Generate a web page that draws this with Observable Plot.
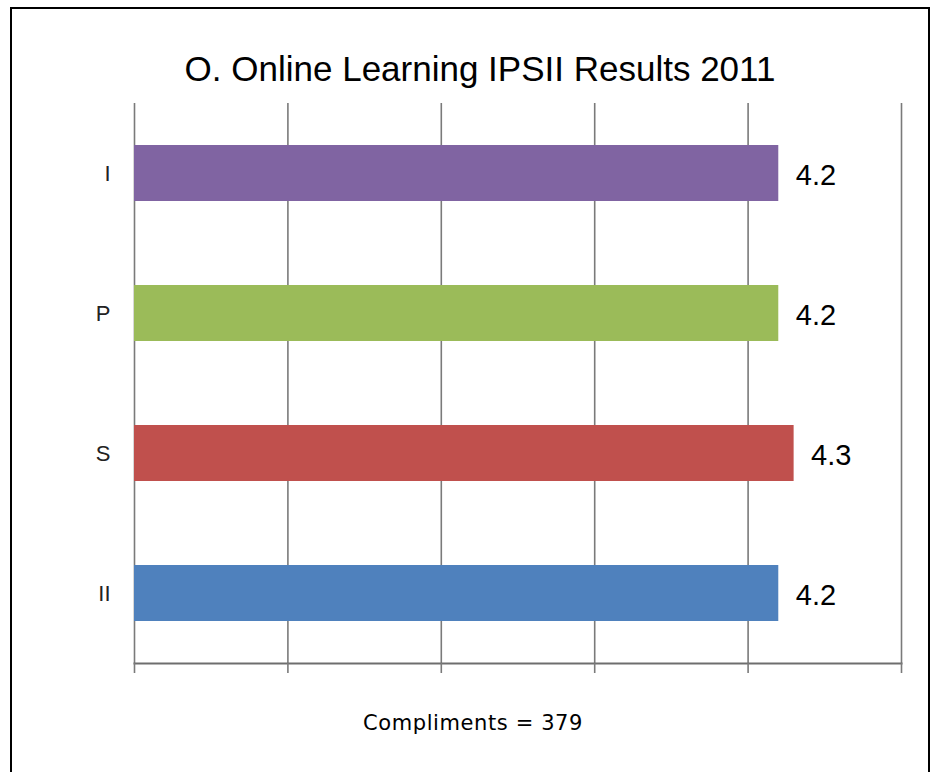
<!DOCTYPE html>
<html>
<head>
<meta charset="utf-8">
<script src="https://cdn.jsdelivr.net/npm/d3@7"></script>
<script src="https://cdn.jsdelivr.net/npm/@observablehq/plot@0.6"></script>
<style>
  html, body { margin: 0; padding: 0; background: #fff; overflow: hidden; }
  #frame {
    position: absolute; left: 10px; top: 7px; width: 916px; height: 800px;
    border: 2px solid #000; background: #fff;
  }
  #title {
    height: 42px; padding-top: 40px; line-height: 40px; text-align: center;
    font-family: "Liberation Sans", sans-serif; font-size: 35px; color: #000;
    padding-left: 20px;
  }
  #caption {
    margin-top: 20px; line-height: 24px; text-align: center;
    font-family: "DejaVu Sans", sans-serif; font-size: 21px; letter-spacing: 0.6px; color: #000;
    padding-left: 6px;
  }
  svg { display: block; }
</style>
</head>
<body>
<div id="frame">
  <div id="title">O. Online Learning IPSII Results 2011</div>
  <div id="chart"></div>
  <div id="caption">Compliments = 379</div>
</div>
<script>
const categories = ["I", "P", "S", "II"];
const values = [4.2, 4.2, 4.3, 4.2];
const colors = ["#8064A2", "#9BBB59", "#C0504D", "#4F81BD"];
const xTicks = [0, 1, 2, 3, 4, 5];

const data = categories.map((c, i) => ({cat: c, value: values[i], color: colors[i]}));

const chart = Plot.plot({
  width: 916,
  height: 600,
  marginTop: 12,
  marginBottom: 28,
  marginLeft: 122,
  marginRight: 27,
  style: {fontFamily: "Liberation Sans, sans-serif", background: "#fff"},
  x: {domain: [0, 5], ticks: xTicks, label: null},
  y: {domain: categories, paddingInner: 0.6, paddingOuter: 0.3, label: null},
  marks: [
    Plot.gridX(xTicks, {stroke: "#7a7a7a", strokeOpacity: 1, strokeWidth: 1.6}),
    Plot.barX(data, {x: "value", y: "cat", fill: "color"}),
    Plot.frame({anchor: "bottom", stroke: "#6e6e6e", strokeWidth: 2}),
    Plot.axisX(xTicks, {tickSize: 10, tickFormat: () => "", stroke: "#7a7a7a", strokeWidth: 1.6, label: null}),
    Plot.axisY({tickSize: 0, tickPadding: 24, fontSize: 22, fill: "#222", label: null}),
    Plot.text(data, {x: "value", y: "cat", text: d => d.value.toFixed(1), dx: 17, dy: 2, textAnchor: "start", fontSize: 29, fill: "#000"})
  ]
});
document.getElementById("chart").appendChild(chart);
</script>
</body>
</html>
